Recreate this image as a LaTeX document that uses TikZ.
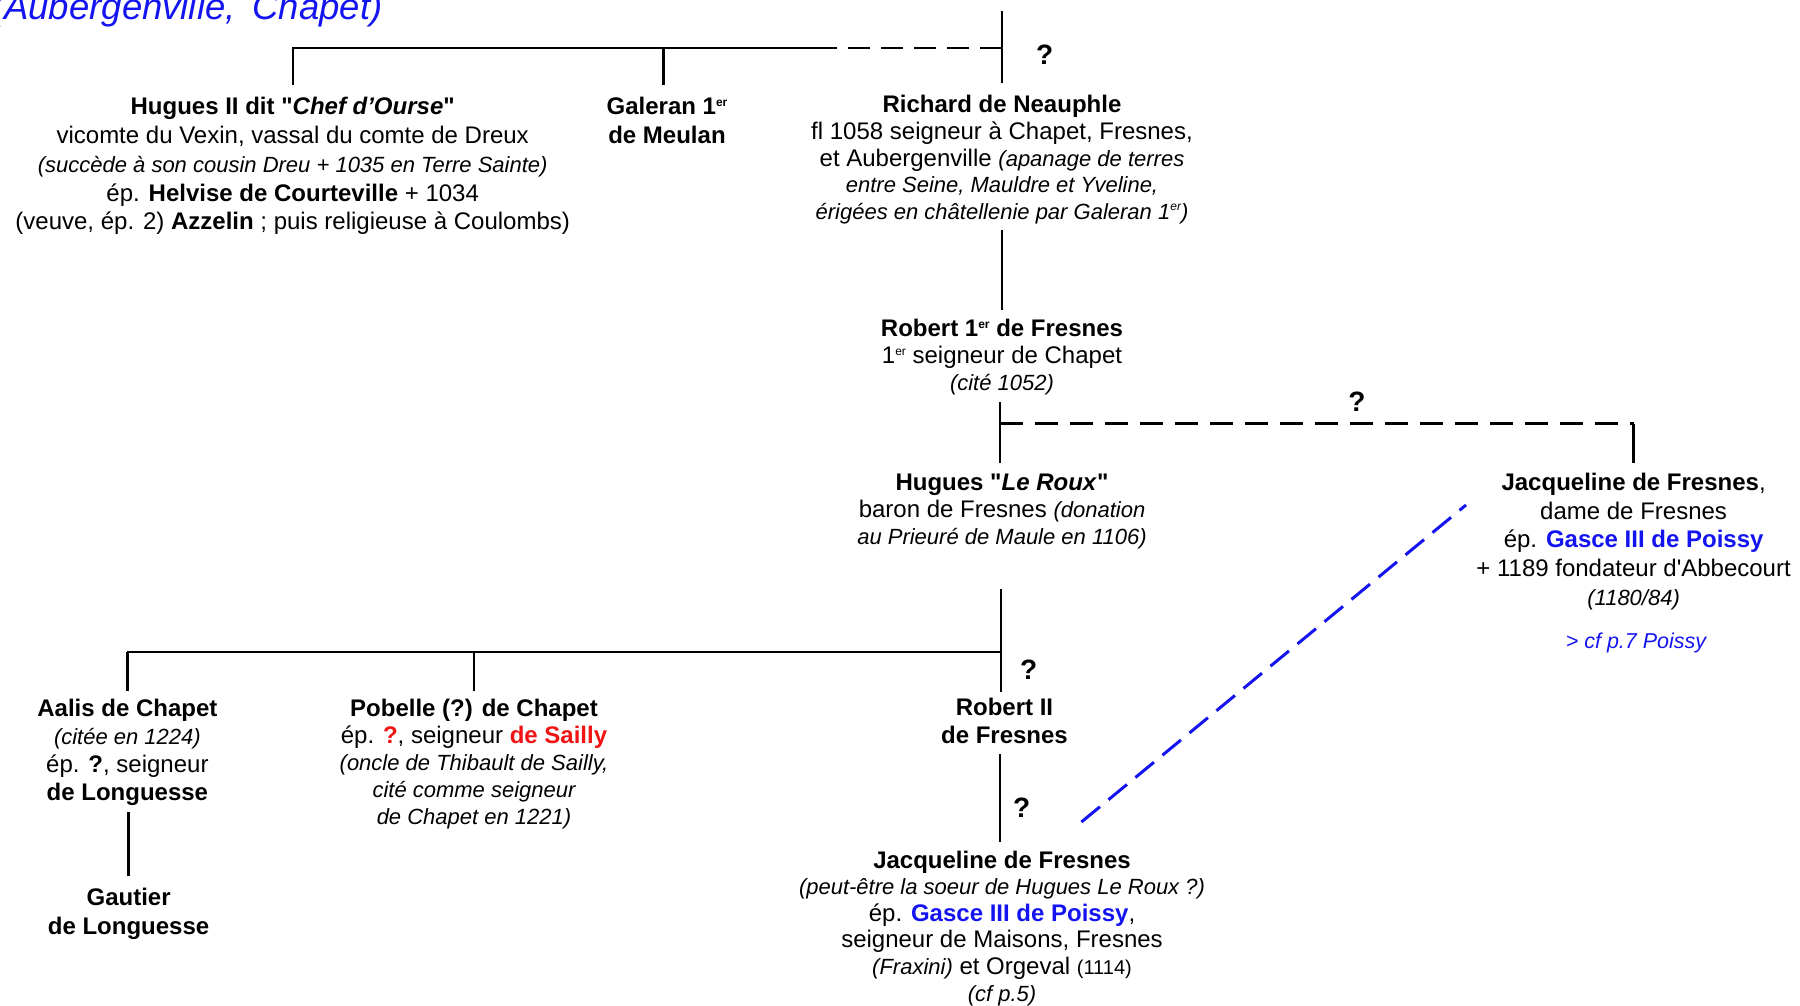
\documentclass[tikz,border=0pt]{standalone}
\usepackage{fontspec}
\setmainfont{Liberation Sans}[Ligatures=TeXOff]
\definecolor{gblue}{RGB}{20,20,240}
\definecolor{gred}{RGB}{240,20,20}
\newcommand\ita[1]{{\fontsize{22pt}{\baselineskip}\selectfont\itshape #1}}
\newcommand\fs[1]{\fontsize{24pt}{#1pt}\selectfont}
\newcommand\sups[1]{\raisebox{8.5pt}{\fontsize{12pt}{12pt}\selectfont #1}}
\tikzset{
  person/.style={align=center, inner sep=0pt, anchor=north},
  kin/.style={line width=2.3pt},
  qm/.style={font=\fontsize{28pt}{30pt}\selectfont\bfseries, inner sep=0pt}
}
\begin{document}
\begin{tikzpicture}[x=1pt,y=-1pt]
\useasboundingbox (0,0) rectangle (1800,1006);

% title fragment
\node[anchor=base west, inner sep=0pt, text=gblue, font=\fontsize{36.5pt}{38pt}\selectfont\itshape] (title) at (-8,20) {(Aubergenville,\hspace{17pt}Chapet)};

% persons
\node[person, font=\fs{28.7}] (hug2) at (292.7,94.7) {\strut\textbf{Hugues II dit "\textit{Chef d’Ourse}"}\\
vicomte du Vexin, vassal du comte de Dreux\\
\ita{(succède à son cousin Dreu + 1035 en Terre Sainte)}\\
ép. \textbf{Helvise de Courteville} + 1034\\
(veuve, ép. 2) \textbf{Azzelin} ; puis religieuse à Coulombs)};

\node[person, font=\fs{28.7}] (gal) at (667,94.7) {\strut\textbf{Galeran 1\sups{er}}\\ \textbf{de Meulan}};

\node[person, font=\fs{26.7}] (rich) at (1002,93.8) {\strut\textbf{Richard de Neauphle}\\
f\kern0pt l 1058 seigneur à Chapet, Fresnes,\\
et Aubergenville \ita{(apanage de terres}\\
\ita{entre Seine, Mauldre et Yveline,}\\
\ita{érigées en châtellenie par Galeran 1\sups{er})}};

\node[person, font=\fs{27}] (rob1) at (1002,317.5) {\strut\textbf{Robert 1\sups{er} de Fresnes}\\
1\sups{er} seigneur de Chapet\\
\ita{(cité 1052)}};

\node[person, font=\fs{27}] (hlr) at (1002,471.3) {\strut\textbf{Hugues "\textit{Le Roux}"}\\
baron de Fresnes \ita{(donation}\\
\ita{au Prieuré de Maule en 1106)}};

\node[person, font=\fs{28.7}] (jr) at (1633.6,470.1) {\strut\textbf{Jacqueline de Fresnes},\\
dame de Fresnes\\
ép. \textcolor{gblue}{\textbf{Gasce III de Poissy}}\\
+ 1189 fondateur d'Abbecourt\\
\ita{(1180/84)}};

\node[anchor=base, inner sep=0pt, text=gblue, font=\fontsize{21.5pt}{24pt}\selectfont\itshape] (cfp7) at (1636,648.6) {> cf p.7 Poissy};

\node[person, font=\fs{27.6}] (rob2) at (1004.5,695.9) {\strut\textbf{Robert II}\\ \textbf{de Fresnes}};

\node[person, font=\fs{26.6}] (jb) at (1002,849.3) {\strut\textbf{Jacqueline de Fresnes}\\
\ita{(peut-être la soeur de Hugues Le Roux ?)}\\
ép. \textcolor{gblue}{\textbf{Gasce III de Poissy}},\\
seigneur de Maisons, Fresnes\\
\ita{(Fraxini)} et Orgeval {\fontsize{20pt}{\baselineskip}\selectfont (1114)}\\
\ita{(cf p.5)}};

\node[person, font=\fs{27.9}] (aal) at (127.4,696.9) {\strut\textbf{Aalis de Chapet}\\
\ita{(citée en 1224)}\\
ép. \textbf{?}, seigneur\\
\textbf{de Longuesse}};

\node[person, font=\fs{28.7}] (gau) at (128.6,885.7) {\strut\textbf{Gautier}\\ \textbf{de Longuesse}};

\node[person, font=\fs{27}] (pob) at (474,697.5) {\strut\textbf{Pobelle (?) de Chapet}\\
ép. \textcolor{gred}{\textbf{?}}, seigneur \textcolor{gred}{\textbf{de Sailly}}\\
\ita{(oncle de Thibault de Sailly,}\\
\ita{cité comme seigneur}\\
\ita{de Chapet en 1221)}};

% question marks
\node[qm] (q1) at (1044.7,55) {?};
\node[qm] (q2) at (1357,402) {?};
\node[qm] (q3) at (1028.6,669.3) {?};
\node[qm] (q4) at (1021.7,808.2) {?};

% junction coordinates
\coordinate (topR) at (1002,11.5);
\coordinate (topJ) at (1002,48.2);
\coordinate (topB) at (1002,83);
\coordinate (solidEnd) at (829,48.2);
\coordinate (hugTop) at (292.7,48.2);
\coordinate (hugIn) at (292.7,85);
\coordinate (galTop) at (663.5,48.2);
\coordinate (galIn) at (663.5,85);
\coordinate (richOut) at (1002,229.6);
\coordinate (robIn) at (1002,310);
\coordinate (robOut) at (1000,401.8);
\coordinate (midJ) at (1000,423.6);
\coordinate (hlrIn) at (1000,462.6);
\coordinate (midR) at (1633.6,423.6);
\coordinate (jrIn) at (1633.6,462.6);
\coordinate (hlrOut) at (1001,589);
\coordinate (lowJ) at (1001,652);
\coordinate (r2In) at (1001,692);
\coordinate (lowL) at (127.4,652);
\coordinate (aalIn) at (127.4,691);
\coordinate (pobJ) at (474,652);
\coordinate (pobIn) at (474,691);
\coordinate (r2Out) at (1000,754);
\coordinate (jbIn) at (1000,841.5);
\coordinate (aalOut) at (128.6,811.6);
\coordinate (gauIn) at (128.6,876);
\coordinate (blueA) at (1081.4,822);
\coordinate (blueB) at (1466,505);

% connectors
\draw[kin] (topR) -- (topB);
\draw[kin] (hugIn) -- (hugTop) -- (solidEnd);
\draw[kin, dash pattern=on 22pt off 11pt] (topJ) -- (solidEnd);
\draw[kin] (galTop) -- (galIn);
\draw[kin] (richOut) -- (robIn);
\draw[kin] (robOut) -- (hlrIn);
\draw[line width=3.2pt, dash pattern=on 23pt off 12pt] (midJ) -- (midR);
\draw[kin] (midR) -- (jrIn);
\draw[kin] (hlrOut) -- (r2In);
\draw[kin] (lowL) -- (lowJ);
\draw[kin] (lowL) -- (aalIn);
\draw[kin] (pobJ) -- (pobIn);
\draw[kin] (r2Out) -- (jbIn);
\draw[kin] (aalOut) -- (gauIn);
\draw[gblue, line width=3pt, dash pattern=on 24pt off 11pt] (blueA) -- (blueB);
\end{tikzpicture}
\end{document}
